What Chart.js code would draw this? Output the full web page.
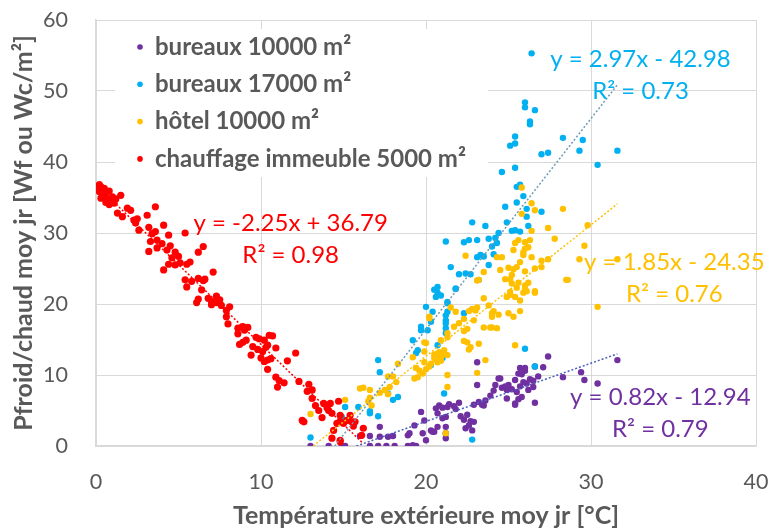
<!DOCTYPE html>
<html>
<head>
<meta charset="utf-8">
<script src="https://cdn.jsdelivr.net/npm/chart.js@4.4.0/dist/chart.umd.min.js"></script>
<style>
html, body { margin: 0; padding: 0; background: #fff; }
#wrap { width: 771px; height: 532px; }
</style>
</head>
<body>
<div id="wrap"><canvas id="scatterChart"></canvas></div>
<script>
const seriesNames = ['bureaux 10000 m²', 'bureaux 17000 m²', 'hôtel 10000 m²', 'chauffage immeuble 5000 m²'];
const seriesColors = ['#7030A0', '#00B0F0', '#FFC000', '#FF0000'];
const trendColors = ['#4A5FC0', '#6D9BB6', '#FFC000', '#FF0000'];

const xTicks = [0, 10, 20, 30, 40];
const yTicks = [0, 10, 20, 30, 40, 50, 60];

// [température, puissance]
const bureaux10000 = [
  [13.0,0],[14.1,0],[14.9,0],[15.1,0],[16.0,1.4],[16.6,1.4],[16.6,0],[17.1,0],[17.6,0],[18.1,0],
  [17.2,1.3],[17.7,1.3],[18.0,1.4],[17.2,2.7],[18.9,1.5],[19.4,0],[18.9,0],[19.2,0.1],[19.7,4.8],[19.9,3.6],
  [19.8,1.8],[20.3,2.2],[20.6,5.3],[20.8,5.7],[21.0,5.4],[21.3,5.5],[20.7,4.6],[21.2,4.1],[21.2,2.7],[20.7,2.7],
  [20.4,2.0],[20.5,2.0],[21.2,1.1],[21.2,1.8],[21.0,3.9],[21.4,5.9],[21.7,5.6],[22.0,6.1],[21.8,5.2],[22.1,4.2],
  [22.3,3.7],[22.5,4.4],[22.7,3.5],[22.6,2.9],[22.8,2.2],[22.9,3.4],[22.4,2.5],[22.9,5.8],[23.2,6.2],[23.4,5.8],
  [23.6,6.4],[23.5,5.7],[23.1,11.8],[23.1,8.6],[23.9,7.1],[24.1,7.8],[24.2,8.6],[24.4,9.5],[24.5,9.5],[24.6,8.2],
  [24.8,8.4],[24.9,7.9],[25.0,8.6],[25.2,8.0],[24.9,6.7],[25.4,5.8],[25.4,6.0],[25.6,6.6],[25.8,6.9],[25.5,7.6],
  [25.7,8.4],[25.4,9.3],[25.6,10.2],[25.8,10.1],[26.0,10.6],[25.7,11.0],[26.0,11.0],[25.9,9.0],[26.1,8.8],[26.3,9.4],
  [26.2,7.9],[26.5,8.3],[26.6,6.1],[26.6,11.2],[26.5,9.2],[26.8,9.8],[27.1,11.1],[27.4,12.6],[28.3,9.7],[29.4,10.4],
  [29.6,9.3],[30.4,8.8],[31.6,12.1],[19.3,2.9],[19.0,1.8],[20.0,0.8]
];

const bureaux17000 = [
  [13.0,1.2],[14.9,4.1],[15.1,5.5],[15.9,5.5],[16.6,4.6],[16.6,4.9],[17.1,4.2],[17.1,12.1],[17.2,10.4],[17.7,7.4],
  [18.0,6.5],[18.3,6.9],[19.4,13.1],[19.5,13.5],[19.2,14.9],[19.7,16.8],[19.7,16.3],[20.0,19.6],[20.1,16.3],[20.3,17.5],
  [20.4,18.9],[20.6,21.0],[20.7,21.6],[20.7,22.4],[20.9,21.2],[20.5,22.0],[20.7,14.2],[21.0,12.4],[21.1,7.4],[21.2,17.7],
  [21.2,17.3],[21.2,18.4],[21.2,15.9],[21.2,16.6],[21.3,18.9],[21.3,20.1],[21.3,20.3],[21.8,22.2],[22.3,18.7],[20.3,11.4],
  [22.8,0.9],[21.5,25.2],[22.0,24.2],[22.4,24.3],[22.7,24.2],[21.2,28.8],[22.3,28.7],[22.6,29.0],[23.1,29.0],[23.1,26.6],
  [23.3,26.9],[23.5,26.7],[24.1,27.0],[23.8,25.5],[23.2,23.4],[21.8,22.1],[22.8,31.5],[23.6,31.0],[23.8,29.2],[24.0,28.1],
  [24.2,29.3],[24.4,30.0],[24.3,28.6],[24.9,31.5],[25.2,30.3],[25.4,30.4],[25.7,30.2],[26.2,31.0],[24.8,33.7],[25.5,34.3],
  [26.1,33.4],[26.1,32.3],[27.0,33.0],[25.9,35.2],[25.5,36.5],[25.7,36.8],[24.6,38.6],[25.4,39.2],[25.1,42.3],[25.4,42.6],
  [25.4,43.6],[26.3,45.3],[26.3,45.7],[26.6,47.3],[26.0,47.7],[26.0,48.4],[26.4,55.3],[27.0,41.1],[27.4,41.3],[28.3,43.4],
  [29.3,41.6],[29.5,43.1],[30.4,39.6],[31.6,41.6],[26.0,13.7],[26.6,11.2]
];

const hotel10000 = [
  [13.0,4.5],[15.1,6.5],[16.0,8.1],[16.2,8.2],[16.6,7.9],[16.6,6.8],[16.7,5.7],[16.5,6.3],[17.2,7.5],[17.5,7.9],
  [17.7,7.3],[17.8,8.3],[18.3,11.6],[18.2,9.0],[17.7,9.8],[18.0,9.8],[19.2,12.5],[19.4,11.0],[19.3,9.5],[19.6,10.6],
  [19.5,9.7],[19.8,10.2],[20.0,14.5],[20.2,18.0],[20.2,18.2],[20.5,12.4],[20.7,13.0],[20.8,13.2],[21.0,12.8],[20.7,11.8],
  [20.5,12.9],[20.9,12.5],[21.3,15.9],[21.3,10.0],[21.3,8.3],[21.2,1.8],[19.9,11.8],[20.0,10.8],[20.2,11.2],[20.3,11.6],
  [20.6,12.2],[20.9,12.0],[21.1,13.5],[19.9,13.3],[19.9,14.6],[20.9,14.9],[21.3,12.8],[21.3,15.3],[21.5,19.5],[21.8,18.9],
  [21.7,16.8],[22.0,17.3],[22.3,16.2],[22.5,16.5],[22.6,19.0],[22.8,19.3],[23.0,19.1],[23.1,19.5],[22.9,17.7],[22.3,17.9],
  [22.3,14.8],[22.5,14.6],[22.7,13.9],[22.6,13.6],[23.2,14.4],[23.5,16.7],[23.9,16.7],[24.0,16.7],[24.3,16.6],[23.8,19.8],
  [24.0,18.7],[24.0,18.2],[24.1,19.0],[24.4,18.5],[23.6,12.1],[23.1,10.3],[25.0,18.7],[25.3,18.2],[25.7,19.0],[25.1,21.7],
  [25.4,21.0],[25.7,20.5],[25.6,23.0],[26.0,22.1],[26.2,23.0],[26.6,21.8],[25.4,14.2],[23.2,23.4],[28.5,23.4],[30.4,19.6],
  [25.8,36.4],[26.4,34.2],[26.6,33.2],[25.8,32.7],[28.3,33.4],[26.4,30.3],[27.4,30.7],[25.4,28.6],[25.6,29.0],[26.0,28.7],
  [26.3,29.0],[26.0,27.8],[25.3,27.6],[25.9,27.3],[26.2,28.0],[27.8,29.2],[22.4,26.8],[24.3,26.6],[24.6,26.6],[26.4,26.6],
  [25.9,26.9],[29.8,31.1],[29.6,28.2],[29.3,26.3],[31.6,26.3],[23.5,24.5],[24.5,24.8],[25.0,25.1],[25.5,25.2],[26.0,24.6],
  [25.7,25.9],[25.3,24.9],[25.2,24.1],[25.1,23.5],[26.6,25.0],[27.0,26.1],[27.4,26.3],[24.8,23.5],[23.1,23.3],[27.0,25.2],
  [28.6,23.4],[25.2,22.9],[25.5,22.3],[26.0,22.6],[26.1,21.8],[25.9,21.6],[26.6,21.6],[24.9,21.0],[25.1,21.3],[23.5,20.8]
];

const chauffage5000 = [
  [0.0,36.2],[0.2,35.8],[0.3,36.5],[0.4,35.2],[0.5,36.3],[0.6,35.6],[0.7,34.8],[0.8,35.9],[0.9,34.5],[1.0,35.1],
  [1.1,34.2],[0.3,34.9],[0.6,34.3],[1.2,34.8],[1.5,35.3],[0.2,36.8],[0.5,35.0],[0.8,34.0],[1.3,32.8],[1.6,32.3],
  [1.9,33.5],[2.1,33.2],[2.3,31.8],[2.4,31.4],[2.6,30.4],[2.5,32.0],[3.1,32.5],[3.2,30.8],[3.4,29.9],[3.3,28.8],
  [3.6,30.2],[3.7,29.0],[3.6,33.7],[4.1,31.1],[4.4,29.7],[5.4,30.0],[3.2,27.4],[3.7,27.9],[4.0,28.5],[4.3,27.6],
  [4.5,28.2],[4.8,27.3],[4.6,26.5],[5.0,26.7],[6.2,27.3],[6.5,28.1],[4.4,25.6],[4.8,25.5],[5.1,25.8],[5.5,25.6],
  [5.7,25.9],[4.1,24.8],[5.4,23.4],[5.8,23.2],[6.2,23.6],[6.5,23.3],[6.6,23.5],[5.5,22.4],[6.4,22.0],[7.1,24.5],
  [6.2,20.7],[6.1,20.2],[6.8,20.8],[7.0,19.9],[7.3,21.1],[7.5,20.6],[7.6,19.8],[7.3,20.2],[7.0,20.4],[8.1,19.6],
  [7.9,19.1],[7.9,18.2],[8.0,17.2],[8.6,16.6],[8.9,16.8],[9.0,16.3],[9.2,16.7],[8.6,15.8],[8.7,14.3],[8.9,14.6],
  [9.1,14.9],[9.7,15.3],[9.9,15.1],[10.2,14.9],[10.5,15.6],[10.7,15.5],[9.5,14.0],[9.8,13.6],[10.1,13.3],[10.3,13.9],
  [10.4,14.2],[10.9,13.8],[9.4,12.8],[10.0,12.4],[10.2,11.9],[10.4,12.1],[10.6,12.3],[10.4,10.8],[11.6,12.0],[12.1,13.1],
  [10.9,9.7],[11.1,9.2],[11.4,8.9],[11.0,8.3],[12.3,9.1],[12.9,8.7],[12.8,7.7],[13.1,7.9],[13.1,6.7],[13.3,5.7],
  [13.8,6.0],[14.0,5.4],[14.2,6.0],[14.3,4.6],[14.1,5.0],[14.7,6.3],[13.7,4.0],[12.5,3.6],[12.6,3.4],[14.8,3.4],
  [15.0,3.2],[15.2,3.6],[14.6,3.2],[14.3,1.1],[14.8,0.8],[14.4,2.2],[14.8,4.3],[15.4,4.3],[15.5,3.4],[15.7,3.4],
  [16.2,2.5],[16.1,1.5],[14.8,0.6],[15.6,2.8],[13.5,5.0]
];

const allSeries = [bureaux10000, bureaux17000, hotel10000, chauffage5000];

// courbes de tendance linéaires [pente, ordonnée]
const trendCoefs = [[0.82, -12.94], [2.97, -42.98], [1.85, -24.35], [-2.25, 36.79]];
const trendLabels = [
  ['y = 0.82x - 12.94', 'R² = 0.79'],
  ['y = 2.97x - 42.98', 'R² = 0.73'],
  ['y = 1.85x - 24.35', 'R² = 0.76'],
  ['y = -2.25x + 36.79', 'R² = 0.98']
];
// position du texte (centre de la 1re ligne, en unités du graphique)
const trendLabelPos = [[34.2, 6.9], [33.0, 54.4], [35.05, 25.9], [11.8, 31.4]];

function trendPoints(pts, coef) {
  const xs = pts.map(p => p[0]);
  let x0 = Math.min(...xs), x1 = Math.max(...xs);
  const root = -coef[1] / coef[0];
  if (coef[0] > 0) x0 = Math.max(x0, root); else x1 = Math.min(x1, root);
  return [x0, x1].map(x => ({ x: x, y: coef[0] * x + coef[1] }));
}

const datasets = [];
allSeries.forEach((pts, i) => {
  datasets.push({
    label: seriesNames[i],
    data: pts.map(p => ({ x: p[0], y: p[1] })),
    backgroundColor: seriesColors[i],
    borderColor: seriesColors[i],
    pointRadius: i === 3 ? 3.6 : 3.2,
    pointBorderWidth: 0,
    order: 4 - i
  });
});
allSeries.forEach((pts, i) => {
  datasets.push({
    label: 'tendance ' + seriesNames[i],
    data: trendPoints(pts, trendCoefs[i]),
    showLine: true,
    borderColor: trendColors[i],
    borderWidth: 1.5,
    borderDash: [2, 2],
    pointRadius: 0,
    order: 0
  });
});

const textGray = '#595959';

const overlayPlugin = {
  id: 'overlay',
  beforeDatasetsDraw(chart) {
    const ctx = chart.ctx;
    const a = chart.chartArea;
    ctx.save();
    ctx.fillStyle = '#fff';
    ctx.fillRect(a.left + 19, a.top + 9, 373, 148);
    ctx.font = 'bold 24px Lato';
    ctx.textBaseline = 'middle';
    ctx.textAlign = 'left';
    seriesNames.forEach((name, i) => {
      const y = a.top + 27 + i * 37.3;
      ctx.fillStyle = seriesColors[i];
      ctx.beginPath();
      ctx.arc(a.left + 44, y, 2.8, 0, Math.PI * 2);
      ctx.fill();
      ctx.fillStyle = textGray;
      ctx.fillText(name, a.left + 59, y);
    });
    ctx.restore();
  },
  afterDatasetsDraw(chart) {
    const ctx = chart.ctx;
    const xs = chart.scales.x, ys = chart.scales.y;
    ctx.save();
    ctx.font = '24px Lato';
    ctx.textAlign = 'center';
    ctx.textBaseline = 'middle';
    trendLabels.forEach((lines, i) => {
      const cx = xs.getPixelForValue(trendLabelPos[i][0]);
      const cy = ys.getPixelForValue(trendLabelPos[i][1]);
      ctx.fillStyle = seriesColors[i];
      ctx.fillText(lines[0], cx, cy);
      ctx.fillText(lines[1], cx, cy + 32);
    });
    ctx.restore();
  }
};

const ctx = document.getElementById('scatterChart').getContext('2d');
const scatterChart = new Chart(ctx, {
  type: 'scatter',
  data: { datasets: datasets },
  options: {
    responsive: true,
    maintainAspectRatio: false,
    animation: false,
    layout: { padding: { top: 20, right: 15, left: 0, bottom: 0 } },
    plugins: {
      legend: { display: false },
      tooltip: { enabled: false }
    },
    scales: {
      x: {
        type: 'linear',
        min: xTicks[0],
        max: xTicks[xTicks.length - 1],
        afterBuildTicks: s => { s.ticks = xTicks.map(v => ({ value: v })); },
        afterFit: s => { s.height = 86; s.paddingLeft = 0; s.paddingRight = 0; },
        grid: { color: '#D9D9D9', lineWidth: 1, drawTicks: false },
        border: { color: '#D9D9D9', width: 1.5 },
        ticks: { color: textGray, font: { family: 'Lato', size: 21.5 }, padding: 23 },
        title: {
          display: true,
          text: 'Température extérieure moy jr [°C]',
          color: textGray,
          font: { family: 'Lato', size: 25, weight: 'bold' },
          padding: { top: 0, bottom: 1 }
        }
      },
      y: {
        type: 'linear',
        min: yTicks[0],
        max: yTicks[yTicks.length - 1],
        afterBuildTicks: s => { s.ticks = yTicks.map(v => ({ value: v })); },
        afterFit: s => { s.width = 96; s.paddingTop = 0; s.paddingBottom = 0; },
        grid: { color: '#D9D9D9', lineWidth: 1, drawTicks: false },
        border: { color: '#D9D9D9', width: 1.5 },
        ticks: { color: textGray, font: { family: 'Lato', size: 21.5 }, padding: 28 },
        title: {
          display: true,
          text: 'Pfroid/chaud moy jr [Wf ou Wc/m²]',
          color: textGray,
          font: { family: 'Lato', size: 25, weight: 'bold' },
          padding: { top: 9, bottom: 0 }
        }
      }
    }
  },
  plugins: [overlayPlugin]
});
</script>
</body>
</html>
